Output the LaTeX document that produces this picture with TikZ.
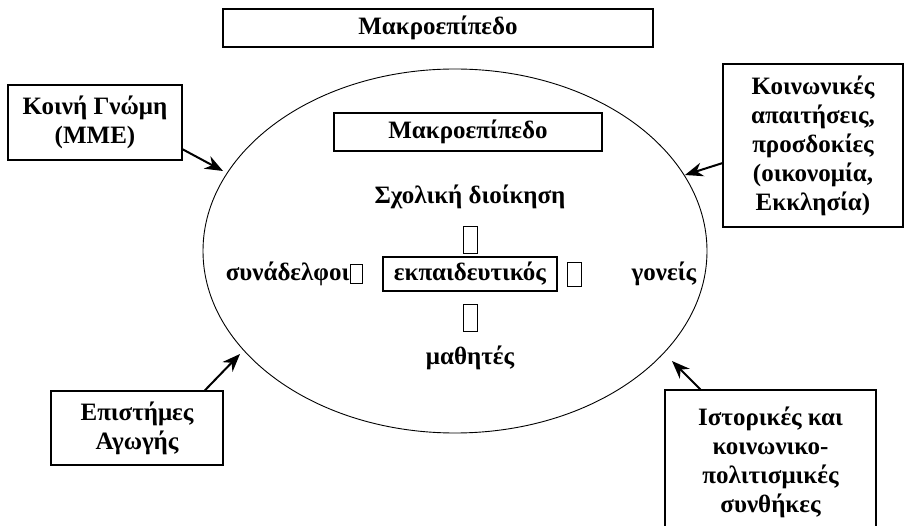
\documentclass[tikz,border=0pt]{standalone}
\usepackage{fontspec}
\setmainfont{Liberation Serif}
\usetikzlibrary{positioning,shapes.geometric,arrows.meta}

\begin{document}
\begin{tikzpicture}[x=1pt, y=-1pt,
    font=\fontsize{25}{29}\selectfont\bfseries,
    box/.style = {draw, line width=1.2pt, align=center, inner sep=0pt},
    tofu/.style = {draw, line width=0.9pt, inner sep=0pt, minimum width=14pt, minimum height=27pt},
    plain/.style = {inner sep=0pt},
    arr/.style = {-{Stealth[length=18pt, width=14pt]}, line width=2pt}]
        \clip (0,0) rectangle (905,526);

        \node[draw, ellipse, line width=0.9pt, inner sep=0pt,
              minimum width=504pt, minimum height=364pt] (ell) at (455,251) {};

        \node[box, minimum width=430pt, minimum height=38pt] (macro) at (438,28) {Μακροεπίπεδο};
        \node[box, minimum width=268pt, minimum height=38pt] (macroin) at (468,132) {Μακροεπίπεδο};

        % teacher and the people round him
        \node[box, minimum width=174pt, minimum height=34pt] (ekp) at (470,274) {εκπαιδευτικός};
        \node[tofu] (tup) [above = 2pt of ekp] {};
        \node[tofu] (tdown) [below = 12pt of ekp] {};
        \node[tofu, minimum width=12pt, minimum height=19pt] (tleft) [left = 20pt of ekp] {};
        \node[tofu, minimum height=24pt] (tright) [right = 9pt of ekp] {};
        \node[plain] (admin) [above = 17pt of tup] {Σχολική διοίκηση};
        \node[plain] (pupils) [below = 14pt of tdown] {μαθητές};
        \node[plain, anchor=east] (colleagues) at (tleft.west) {συνάδελφοι};
        \node[plain] (parents) [right = 50pt of tright] {γονείς};

        % outside influences
        \node[box, minimum width=174pt, minimum height=75pt] (opinion) at (95,122.5) {Κοινή Γνώμη\\(ΜΜΕ)};
        \node[box, minimum width=180pt, minimum height=163pt] (society) at (813,145.5)
            {Κοινωνικές\\απαιτήσεις,\\προσδοκίες\\(οικονομία,\\Εκκλησία)};
        \node[box, minimum width=172pt, minimum height=74pt] (science) at (137,428) {Επιστήμες\\Αγωγής};
        \node[box, minimum width=211pt, minimum height=144pt] (history) at (770.5,462)
            {Ιστορικές και\\κοινωνικο-\\πολιτισμικές\\συνθήκες};

        \coordinate (t1) at (223,171);
        \coordinate (t2) at (685,175);
        \coordinate (t3) at (240,354);
        \coordinate (t4) at (672,361);

        \draw[arr] (opinion.-17) -- (t1);
        \draw[arr] (society.191) -- (t2);
        \draw[arr] (science.29) -- (t3);
        \draw[arr] (history.134) -- (t4);
    \end{tikzpicture}
\end{document}
